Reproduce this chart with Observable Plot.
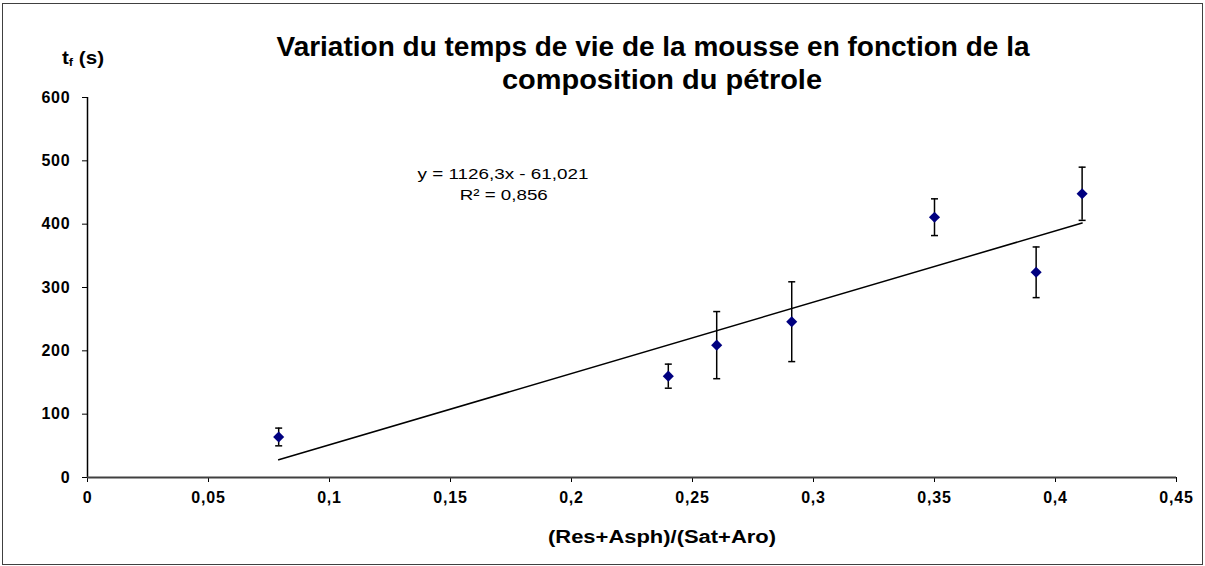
<!DOCTYPE html>
<html><head><meta charset="utf-8">
<script src="https://cdn.jsdelivr.net/npm/d3@7"></script>
<script src="https://cdn.jsdelivr.net/npm/@observablehq/plot@0.6"></script>
<style>
html,body{margin:0;padding:0;background:#fff;}
#wrap{position:relative;width:1205px;height:566px;overflow:hidden;font-family:"Liberation Sans",Arial,sans-serif;}
#frame{position:absolute;left:2px;top:3px;width:1201px;height:562px;border:1.5px solid #404040;box-sizing:border-box;}
#chart{position:absolute;left:0;top:0;}
#chart svg text{letter-spacing:0.8px;}
.lbl{position:absolute;white-space:nowrap;line-height:1;font-weight:bold;color:#000;}
.lbl sub{font-size:62%;vertical-align:-0.25em;line-height:0;}
</style></head>
<body>
<div id="wrap"><div id="chart"></div><div id="frame"></div></div>
<script>
// ---- data ----
const ratio    = [0.079, 0.24, 0.26, 0.291, 0.35, 0.392, 0.411];
const lifetime = [64, 160, 209, 246, 411, 324, 448];
const errorBar = [14, 19, 53, 63, 29, 40, 42];
const xTicks = [0, 0.05, 0.1, 0.15, 0.2, 0.25, 0.3, 0.35, 0.4, 0.45];
const yTicks = [0, 100, 200, 300, 400, 500, 600];
const fitSlope = 1126.3;
const fitIntercept = -61.021;
const titleLines = ["Variation du temps de vie de la mousse en fonction de la", "composition du pétrole"];
const xLabel = "(Res+Asph)/(Sat+Aro)";
const equationLines = ["y = 1126,3x - 61,021", "R² = 0,856"];

// ---- derived tables ----
const data = ratio.map((x, i) => ({x, y: lifetime[i], lo: lifetime[i] - errorBar[i], hi: lifetime[i] + errorBar[i]}));
const [xmin, xmax] = d3.extent(ratio);
const trend = [xmin, xmax].map(x => ({x, y: fitSlope * x + fitIntercept}));
const fmt = d => String(d).replace(".", ",");

const cap = {draw(ctx, size) { const h = Math.sqrt(size / Math.PI); ctx.moveTo(-h, 0); ctx.lineTo(h, 0); }};

const chart = Plot.plot({
  width: 1205, height: 566,
  marginLeft: 87, marginRight: 29, marginTop: 97, marginBottom: 89,
  style: {fontFamily: "Liberation Sans, Arial, sans-serif", fontSize: "16px", fontWeight: "bold", background: "transparent", color: "#000"},
  x: {domain: [0, 0.45], ticks: xTicks, tickFormat: fmt, tickSize: 5, tickPadding: 9, label: null},
  y: {domain: [0, 600], ticks: yTicks, tickSize: 5, tickPadding: 12, label: null},
  marks: [
    Plot.ruleX([0], {stroke: "#000", strokeWidth: 1.5}),
    Plot.ruleY([0], {stroke: "#404040", strokeWidth: 2}),
    Plot.line(trend, {x: "x", y: "y", stroke: "#000", strokeWidth: 1.5}),
    Plot.ruleX(data, {x: "x", y1: "lo", y2: "hi", stroke: "#000", strokeWidth: 1.5}),
    Plot.dot(data, {x: "x", y: "lo", symbol: cap, r: 3.5, stroke: "#000", strokeWidth: 1.5}),
    Plot.dot(data, {x: "x", y: "hi", symbol: cap, r: 3.5, stroke: "#000", strokeWidth: 1.5}),
    Plot.dot(data, {x: "x", y: "y", symbol: "diamond2", r: 5, fill: "#000080", stroke: "none"}),
    Plot.text([equationLines[0]], {x: () => 0.1717, y: () => 479, text: d => d, fontSize: 15.5, fontWeight: "normal", lineAnchor: "middle"}),
    Plot.text([equationLines[1]], {x: () => 0.172, y: () => 446, text: d => d, fontSize: 15.5, fontWeight: "normal", lineAnchor: "middle"})
  ]
});
document.getElementById("chart").appendChild(chart);

// stretch the equation text like the original rendering
const eqWidths = [171, 88];
d3.select(chart).selectAll("text").each(function () {
  const i = equationLines.indexOf(this.textContent);
  if (i >= 0) d3.select(this).style("letter-spacing", "0px").attr("textLength", eqWidths[i]).attr("lengthAdjust", "spacingAndGlyphs");
});

// HTML labels (title, axis titles)
const wrap = document.getElementById("wrap");
function label(html, size, cx, cy, targetW) {
  const el = document.createElement("div");
  el.className = "lbl";
  el.style.fontSize = size + "px";
  el.innerHTML = html;
  wrap.appendChild(el);
  const w = el.getBoundingClientRect().width;
  const k = targetW ? targetW / w : 1;
  el.style.left = cx + "px";
  el.style.top = cy + "px";
  el.style.transform = `translate(-50%, -50%) scaleX(${k})`;
  return el;
}
label(titleLines[0], 27, 653, 47, 753);
label(titleLines[1], 27, 662, 80, 320);
label("t<sub>f</sub> (s)", 19, 83, 57, 42);
label(xLabel, 18, 662, 537, 228);
</script>
</body></html>
